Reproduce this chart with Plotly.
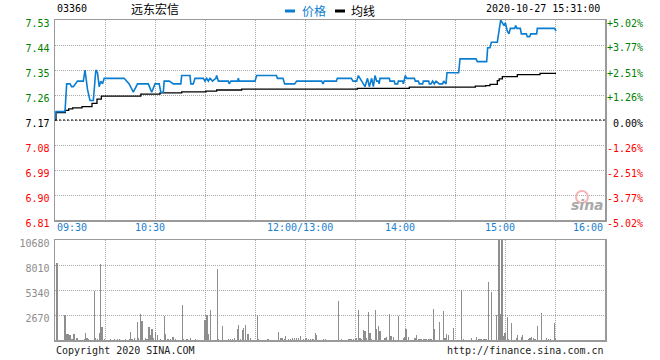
import plotly.graph_objects as go

# ---------------- data ----------------
stock_code = "03360"
stock_name = "远东宏信"
timestamp = "2020-10-27 15:31:00"
prev_close = 7.17

price_levels = [7.53, 7.44, 7.35, 7.26, 7.17, 7.08, 6.99, 6.90, 6.81]
price_labels = ["7.53", "7.44", "7.35", "7.26", "7.17", "7.08", "6.99", "6.90", "6.81"]
pct_levels = [5.02, 3.77, 2.51, 1.26, 0.00, -1.26, -2.51, -3.77, -5.02]
pct_labels = ["+5.02%", "+3.77%", "+2.51%", "+1.26%", "\u00a00.00%", "-1.26%", "-2.51%", "-3.77%", "-5.02%"]
vol_levels = [2670, 5340, 8010, 10680]
vol_labels = ["2670", "5340", "8010", "10680"]
time_ticks = [0, 60, 150, 210, 270, 330]          # trading minutes since 09:30
time_labels = ["09:30", "10:30", "12:00/13:00", "14:00", "15:00", "16:00"]

# price line (trading minute, price)
price_min = [0, 0.6, 6, 7, 9, 10, 11, 12.5, 13.5, 17, 18, 19.5, 21, 23, 24.5, 25.5, 26.5, 27.5, 28.5, 29.5,
             41.5, 44.5, 47, 49.5, 56, 58, 60, 62.5, 63.5, 65, 65.5, 68, 68.6, 71, 75.5, 76, 81, 81.5, 83, 84,
             89, 90, 91, 92, 93, 94.5, 96.5, 97, 98, 104, 104.5, 105.5, 109.5, 110, 110.5, 120, 121, 132.8,
             133.5, 136.8, 137.8, 143.8, 145, 160, 160.8, 161.5, 168.8, 169.4, 177.8, 178.8, 181, 182, 183,
             184, 186, 187.5, 188.6, 190, 191, 192, 193, 194, 194.5, 195, 200.6, 201, 203.6, 204, 205.6, 206,
             208.6, 209, 210.2, 211, 215.6, 216.2, 218, 218.6, 220.6, 221, 224.2, 224.6, 225.6, 226.6, 227.6,
             228.6, 230.6, 232.6, 233.2, 234.6, 235.2, 242.2, 243, 252.6, 253.4, 259, 259.6, 261, 261.8, 265.4,
             266.4, 267.4, 268.4, 269.4, 270.2, 271.4, 272.4, 273.2, 275.8, 276.4, 277.2, 279.2, 279.8, 282.8,
             283.4, 284.8, 285.4, 289.0, 289.4, 299.8, 300.6]
price_val = [7.17, 7.20, 7.20, 7.30, 7.30, 7.29, 7.29, 7.30, 7.31, 7.31, 7.35, 7.28, 7.24, 7.24, 7.35, 7.34, 7.29, 7.31, 7.30, 7.32,
             7.32, 7.30, 7.27, 7.30, 7.30, 7.27, 7.30, 7.30, 7.27, 7.27, 7.31, 7.31, 7.31, 7.30, 7.30, 7.33, 7.33, 7.30, 7.30, 7.32,
             7.32, 7.31, 7.32, 7.31, 7.32, 7.31, 7.32, 7.33, 7.31, 7.31, 7.30, 7.31, 7.31, 7.32, 7.31, 7.31, 7.33, 7.33,
             7.32, 7.32, 7.30, 7.30, 7.31, 7.31, 7.30, 7.31, 7.31, 7.32, 7.32, 7.31, 7.31, 7.33, 7.32,
             7.31, 7.29, 7.32, 7.29, 7.32, 7.29, 7.33, 7.31, 7.31, 7.30, 7.32, 7.32, 7.31, 7.31, 7.30, 7.30, 7.31,
             7.31, 7.30, 7.33, 7.32, 7.32, 7.31, 7.31, 7.30, 7.30, 7.31, 7.31, 7.30, 7.30, 7.31, 7.30,
             7.31, 7.30, 7.30, 7.31, 7.30, 7.34, 7.34, 7.39, 7.39, 7.38, 7.38, 7.43, 7.43, 7.45, 7.45,
             7.49, 7.53, 7.52, 7.51, 7.52, 7.49, 7.48, 7.50, 7.50, 7.51, 7.50, 7.50, 7.48, 7.48,
             7.47, 7.47, 7.48, 7.48, 7.50, 7.50, 7.49]

# average line (trading minute, average price)
avg_min = [0, 0.6, 6.2, 8.2, 10.6, 16.2, 22.2, 25.2, 27.8, 51.5, 63, 76, 90.6, 97, 112, 181.4, 212.6,
           252.2, 258.4, 261, 265.4, 266.5, 268.4, 277.4, 291, 300.6]
avg_val = [7.17, 7.197, 7.205, 7.21, 7.214, 7.218, 7.23, 7.245, 7.256, 7.263, 7.268, 7.271, 7.274, 7.278,
           7.281, 7.284, 7.288, 7.292, 7.294, 7.298, 7.312, 7.318, 7.326, 7.333, 7.338, 7.338]

# volume bars (trading minute, shares)
vol_min = [1.2, 5.6, 6.0, 7.2, 8.2, 9.0, 10.2, 11.4, 13.2, 17.6, 18.2, 19.2, 20.2, 23.6, 24.2, 25.6, 26.6,
           27.4, 28.2, 29.6, 33.2, 35.6, 37.6, 38.8, 42.2, 44.6, 45.2, 46.2, 47.6, 49.4, 50.2, 51.2, 52.2,
           54.2, 55.2, 56.4, 57.2, 58.2, 59.2, 60.2, 61.4, 63.2, 65.6, 66.2, 67.8, 69.2, 70.8, 72.2, 76.4,
           77.0, 79.2, 81.2, 84.2, 90.0, 91.2, 92.0, 93.2, 97.4, 98.2, 100.4, 104.2, 105.2, 106.4, 107.6,
           109.4, 110.0, 111.2, 112.4, 113.2, 114.2, 115.6, 116.2, 117.4, 121.4, 122.2, 127.4, 128.2, 134.2,
           135.4, 136.2, 137.6, 138.4, 140.2, 141.4, 142.6, 143.8, 145.0, 146.2, 147.2, 149.2, 150.6, 152.2,
           153.4, 154.8, 156.2, 157.0, 161.2, 162.2,
           170.0, 172.0, 176.0, 177.0, 178.0, 179.0, 180.2, 180.8, 182.0, 183.0, 184.0, 185.0, 186.0, 187.0,
           188.0, 189.0, 190.0, 192.2, 192.8, 194.0, 195.0, 198.0, 199.0, 200.6, 201.4, 202.0, 203.0, 206.0,
           209.0, 210.0, 210.6, 212.0, 216.0, 217.0, 218.0, 219.0, 220.0, 221.0, 222.0, 223.0, 224.0, 225.0,
           226.0, 227.0, 227.6, 230.6, 233.0, 234.0, 235.0, 236.0, 239.0, 244.0, 245.0, 250.0, 253.0, 254.0,
           255.0, 256.0, 257.0, 258.0, 259.0, 260.0, 262.0, 265.0, 266.4, 267.4, 268.2, 269.0, 270.0, 270.4,
           271.4, 272.0, 273.8, 277.0, 277.6, 280.0, 280.6, 284.0, 285.0, 286.0, 287.0, 288.0, 289.4, 291.8,
           295.0, 296.0, 297.4, 299.6, 300.4]
vol_val = [8250, 1210, 2640, 640, 640, 500, 140, 640, 210, 140, 750, 210, 140, 5210, 210, 140, 750,
           8140, 1390, 140, 110, 110, 110, 110, 110, 140, 860, 140, 210, 1930, 210, 2780, 2070,
           210, 140, 1390, 500, 1210, 210, 860, 540, 140, 2570, 640, 140, 140, 320, 140, 3750,
           140, 140, 210, 110, 2140, 2640, 640, 3210, 7600, 110, 1500, 110, 110, 110, 210,
           1210, 1570, 140, 1070, 1290, 1570, 640, 640, 210, 2640, 110, 110, 110, 860,
           210, 210, 140, 430, 110, 140, 210, 210, 210, 210, 430, 110, 210, 110,
           110, 140, 710, 500, 140, 140,
           4210, 110, 110, 110, 110, 110, 210, 210, 3210, 210, 110, 1070, 1000, 210,
           3000, 790, 110, 3210, 1210, 1500, 1000, 210, 290, 2780, 430, 430, 290, 2570,
           180, 360, 1180, 360, 210, 500, 110, 110, 110, 110, 110, 110, 110, 110,
           110, 3320, 1180, 1930, 3140, 180, 610, 540, 1290, 5350, 110, 210, 320, 110,
           110, 110, 110, 110, 110, 6210, 5140, 2640, 12000, 2780, 12000, 430, 790, 540,
           2430, 110, 1790, 250, 500, 360, 540, 110, 180, 360, 180, 110, 1500, 2930,
           210, 110, 110, 1820, 210]

# ---------------- styling helpers ----------------
MONO = "DejaVu Sans Mono"
CJK = "Noto Sans CJK SC"
GREEN, RED, BLACK = "#008000", "#ff0000", "#000000"
BLUE = "#0b7dd0"
GRID = "#a8a8a8"
GDASH = "1px,1px"
FRAME = "#9a9a9a"

L, R, T, B, W, H = 55, 55, 20, 20, 660, 360
PW, PH = W - L - R, H - T - B


def px(xpix):
    return (xpix - L) / PW


def py(ypix):
    return (H - B - ypix) / PH


def colored(text, value, ref):
    c = GREEN if value > ref else (BLACK if value == ref else RED)
    return f"<span style='color:{c}'>{text}</span>"


left_text = [colored(t, v, prev_close) for t, v in zip(price_labels, price_levels)]
right_text = [colored(t, v, 0.0) for t, v in zip(pct_labels, pct_levels)]

fig = go.Figure()
fig.add_trace(go.Bar(x=vol_min, y=vol_val, width=0.8, marker=dict(color="#8e8e8e", line_width=0),
                     xaxis="x2", yaxis="y2", hoverinfo="skip", showlegend=False))
fig.add_trace(go.Scatter(x=avg_min, y=avg_val, mode="lines", line=dict(color="#000000", width=1.3, shape="hv"),
                         xaxis="x", yaxis="y", hoverinfo="skip", showlegend=False))
fig.add_trace(go.Scatter(x=price_min, y=price_val, mode="lines", line=dict(color=BLUE, width=1.6),
                         xaxis="x", yaxis="y", hoverinfo="skip", showlegend=False))
fig.add_trace(go.Scatter(x=[0], y=[0], mode="markers", marker=dict(opacity=0),
                         xaxis="x", yaxis="y3", hoverinfo="skip", showlegend=False))

grid_x = list(range(0, 331, 30))
common_x = dict(range=[0, 330], tickvals=grid_x, showticklabels=False, ticks="",
                showgrid=True, gridcolor=GRID, griddash=GDASH, gridwidth=1,
                showline=True, mirror=True, linecolor=FRAME, linewidth=1.5, zeroline=False, fixedrange=True)

fig.update_layout(
    width=W, height=H, margin=dict(l=L, r=R, t=T, b=B),
    paper_bgcolor="white", plot_bgcolor="white", showlegend=False, bargap=0,
    xaxis=dict(domain=[0, 1], anchor="y", **common_x),
    xaxis2=dict(domain=[0, 1], anchor="y2", **common_x),
    yaxis=dict(domain=[py(220), 1], range=[6.81, 7.53], tickvals=price_levels, ticktext=left_text,
               showgrid=True, gridcolor=GRID, griddash=GDASH, showline=True, mirror=True,
               linecolor=FRAME, linewidth=1.5, zeroline=False, ticks="", ticklabelshift=3,
               ticklabelstandoff=2, tickfont=dict(family=MONO, size=10), fixedrange=True),
    yaxis3=dict(overlaying="y", side="right", anchor="x", range=[-5.02, 5.02], tickvals=pct_levels,
                ticktext=right_text, showgrid=False, zeroline=False, showline=False, ticks="",
                ticklabelshift=3, ticklabelstandoff=1, tickfont=dict(family=MONO, size=10), fixedrange=True),
    yaxis2=dict(domain=[0, py(240)], range=[0, 10680], tickvals=vol_levels, ticktext=vol_labels,
                showgrid=True, gridcolor=GRID, griddash=GDASH, showline=True, mirror=True,
                linecolor=FRAME, linewidth=1.5, zeroline=False, ticks="", ticklabelshift=3,
                ticklabelstandoff=2, tickfont=dict(family=MONO, size=10, color="#8c8c8c"), fixedrange=True),
)

# previous close reference line
fig.add_shape(type="line", xref="x", yref="y", x0=0, x1=330, y0=prev_close, y1=prev_close,
              line=dict(color="white", width=1.2), layer="below")
fig.add_shape(type="line", xref="x", yref="y", x0=0, x1=330, y0=prev_close, y1=prev_close,
              line=dict(color="black", width=1.2, dash="2px,2px"), layer="above")

# time labels
for i, (t, lab) in enumerate(zip(time_ticks, time_labels)):
    if i == 0:
        anc, sh = "left", 0
    elif i == len(time_ticks) - 1:
        anc, sh = "right", 0
    else:
        anc, sh = "center", -5
    fig.add_annotation(x=t, y=py(227), xref="x", yref="paper", text=lab, showarrow=False,
                       xanchor=anc, yanchor="middle", xshift=sh,
                       font=dict(family=MONO, size=10, color="#1a80d2"))

# header
fig.add_annotation(x=px(55), y=py(9), xref="paper", yref="paper", text=stock_code, showarrow=False,
                   xanchor="left", yanchor="middle", font=dict(family=MONO, size=10, color="black"))
fig.add_annotation(x=px(129), y=py(9), xref="paper", yref="paper", text=stock_name, showarrow=False,
                   xanchor="left", yanchor="middle", font=dict(family=CJK, size=12, color="black"))
fig.add_shape(type="line", xref="paper", yref="paper", x0=px(285), x1=px(295), y0=py(11), y1=py(11),
              line=dict(color=BLUE, width=3))
fig.add_annotation(x=px(300), y=py(10), xref="paper", yref="paper", text="价格", showarrow=False,
                   xanchor="left", yanchor="middle", font=dict(family=CJK, size=12, color=BLUE))
fig.add_shape(type="line", xref="paper", yref="paper", x0=px(335), x1=px(345), y0=py(11), y1=py(11),
              line=dict(color="black", width=3))
fig.add_annotation(x=px(349), y=py(10), xref="paper", yref="paper", text="均线", showarrow=False,
                   xanchor="left", yanchor="middle", font=dict(family=CJK, size=12, color="black"))
fig.add_annotation(x=px(602), y=py(9), xref="paper", yref="paper", text=timestamp, showarrow=False,
                   xanchor="right", yanchor="middle", font=dict(family=MONO, size=10, color="black"))

# footer
fig.add_annotation(x=px(54), y=py(350), xref="paper", yref="paper", text="Copyright 2020 SINA.COM",
                   showarrow=False, xanchor="left", yanchor="middle",
                   font=dict(family=MONO, size=10, color="#222222"))
fig.add_annotation(x=px(606), y=py(350), xref="paper", yref="paper", text="http://finance.sina.com.cn",
                   showarrow=False, xanchor="right", yanchor="middle",
                   font=dict(family=MONO, size=10, color="#222222"))

# sina watermark
fig.add_shape(type="circle", xref="paper", yref="paper", x0=px(576), x1=px(588), y0=py(203), y1=py(191),
              line=dict(color="#f3b5b5", width=2), fillcolor="rgba(255,255,255,0)")
fig.add_annotation(x=px(587), y=py(205), xref="paper", yref="paper", text="<b><i>sina</i></b>",
                   showarrow=False, xanchor="center", yanchor="middle",
                   font=dict(family="DejaVu Sans", size=14, color="#a9a9a9"))

fig.write_html("out.html", config={"displayModeBar": False, "staticPlot": True},
               post_script="document.body.style.margin='0';")
